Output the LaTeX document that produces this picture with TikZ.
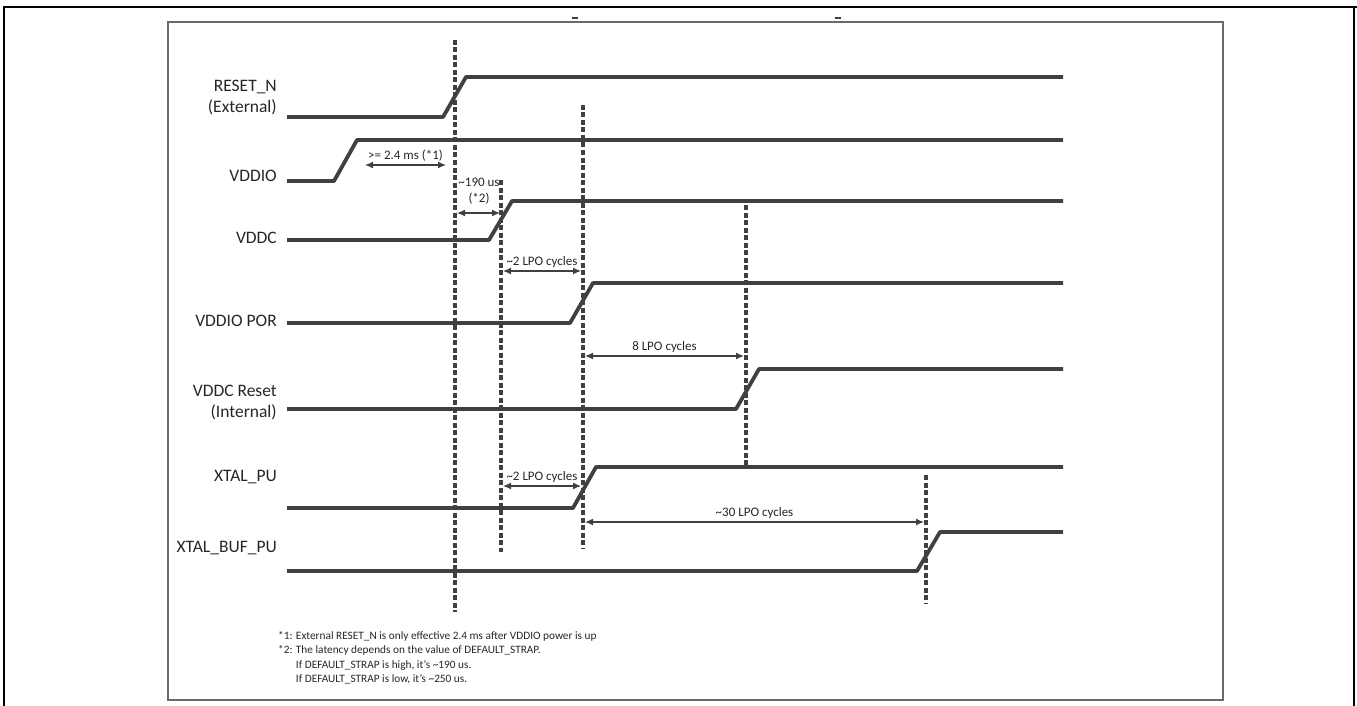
\documentclass[tikz,border=0pt]{standalone}
\usepackage{fontspec}
\setmainfont{Carlito}
\usetikzlibrary{arrows.meta,positioning,calc}
\definecolor{wave}{HTML}{404040}
\definecolor{ink}{HTML}{262626}
\definecolor{frame}{HTML}{6A6A6A}
\tikzset{
  sig/.style={wave,line width=3.8pt,line join=round},
  marker/.style={wave,line width=3.8pt,dash pattern=on 5pt off 2.5pt},
  dim/.style={<->,wave,line width=1.3pt,>={Latex[length=8pt,width=7pt]}},
  lab/.style={anchor=east,align=right,font=\fontsize{17.5}{21}\selectfont,text=ink,inner sep=0pt},
  note/.style={font=\fontsize{13}{16}\selectfont,text=ink,inner sep=0pt,align=center}
}
\begin{document}
\begin{tikzpicture}[x=1pt,y=-1pt,>=Latex]
    \useasboundingbox (0,0) rectangle (1357,706);
    % page frame
    \draw[black,line width=1.5pt] (4,706) -- (4,7) -- (1357,7);
    \draw[black,line width=1.5pt] (1354,7) -- (1354,706);
    \draw[frame,line width=2pt] (168,22) rectangle (1223,700);
    \draw[wave,line width=1.5pt] (572,18) -- (578,18);
    \draw[wave,line width=1.5pt] (835,18) -- (841,18);
    % signal names
    \node[lab] (lrst) at (277,98) {RESET\_N\\(External)};
    \node[lab] (lvddio) at (277,176) {VDDIO};
    \node[lab] (lvddc) at (277,238) {VDDC};
    \node[lab] (lpor) at (277,321) {VDDIO POR};
    \node[lab] (lcrst) at (277,403) {VDDC Reset\\(Internal)};
    \node[lab] (lxtal) at (277,477) {XTAL\_PU};
    \node[lab] (lbuf) at (277,548) {XTAL\_BUF\_PU};
    % waveforms: low level / rise start / rise height
    \foreach \y/\xr/\h in {117/443/40,181/334/41,240/489/39,323/570/40,409/736/40,508/573/41,571/917/39}{
      \draw[sig] (287,\y) -- (\xr,\y) -- (\xr+23,\y-\h) -- (1063,\y-\h);}
    % timing markers
    \foreach \x/\ya/\yb/\n in {455/40/612/a,501/180/552/b,583/105/549/c,746/205/465/d,926/475/603/e}{
      \coordinate (\n top) at (\x,\ya);
      \coordinate (\n bot) at (\x,\yb);
      \draw[marker] (\n top) -- (\n bot);}
    % intervals
    \coordinate (p0) at (365,165);
    \coordinate (p1) at (446,165);
    \draw[dim] (p0) -- (p1);
    \node[note,above=3pt] (t0) at ($(p0)!0.5!(p1)$) {>= 2.4 ms (*1)};
    \coordinate (q0) at (457,213);
    \coordinate (q1) at (500,213);
    \draw[dim] (q0) -- (q1);
    \node[note,align=center] (t1) at (479,191) {\textasciitilde190 us\\(*2)};
    \coordinate (r0) at (503,271);
    \coordinate (r1) at (581,271);
    \draw[dim] (r0) -- (r1);
    \node[note,above=3pt] (t2) at ($(r0)!0.5!(r1)$) {\textasciitilde2 LPO cycles};
    \coordinate (s0) at (585,356);
    \coordinate (s1) at (744,356);
    \draw[dim] (s0) -- (s1);
    \node[note,above=3pt] (t3) at ($(s0)!0.5!(s1)$) {8 LPO cycles};
    \coordinate (u0) at (503,486);
    \coordinate (u1) at (581,486);
    \draw[dim] (u0) -- (u1);
    \node[note,above=3pt] (t4) at ($(u0)!0.5!(u1)$) {\textasciitilde2 LPO cycles};
    \coordinate (v0) at (585,522);
    \coordinate (v1) at (924,522);
    \draw[dim] (v0) -- (v1);
    \node[note,above=3pt] (t5) at ($(v0)!0.5!(v1)$) {\textasciitilde30 LPO cycles};
    % footnotes
    \node[anchor=north west,align=left,inner sep=0pt,text=ink,font=\fontsize{11.3}{14.5}\selectfont] (fn) at (278,631)
      {*1: External RESET\_N is only effective 2.4 ms after VDDIO power is up\\
       *2: The latency depends on the value of DEFAULT\_STRAP.\\
       \phantom{*2: }If DEFAULT\_STRAP is high, it’s \textasciitilde190 us.\\
       \phantom{*2: }If DEFAULT\_STRAP is low, it’s \textasciitilde250 us.};
\end{tikzpicture}
\end{document}
